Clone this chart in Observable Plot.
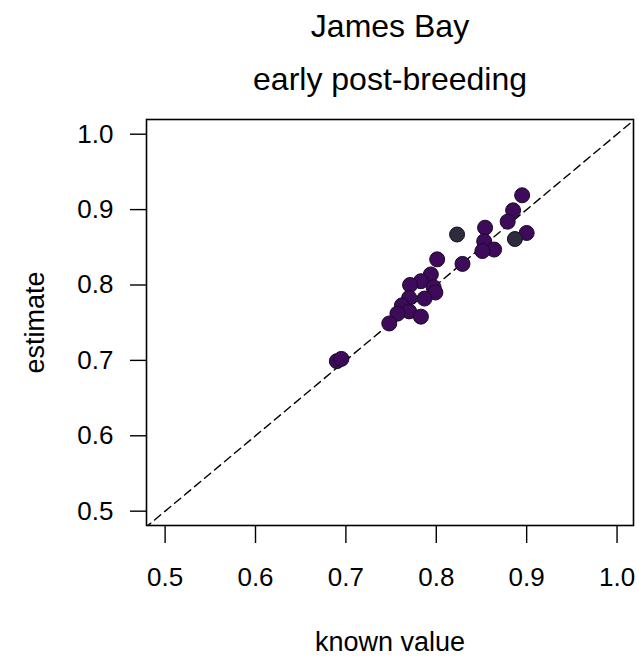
<!DOCTYPE html>
<html>
<head>
<meta charset="utf-8">
<script src="https://cdn.jsdelivr.net/npm/d3@7"></script>
<script src="https://cdn.jsdelivr.net/npm/@observablehq/plot@0.6"></script>
<style>
  html, body { margin: 0; padding: 0; background: #fff; }
  svg { display: block; }
</style>
</head>
<body>
<div id="chart"></div>
<script>
// Data
const knownValue = [0.895, 0.885, 0.879, 0.854, 0.823, 0.900, 0.887, 0.853, 0.864, 0.851,
                    0.829, 0.801, 0.794, 0.783, 0.797, 0.771, 0.799, 0.787, 0.770, 0.762,
                    0.770, 0.757, 0.783, 0.748, 0.690, 0.695];
const estimate   = [0.919, 0.899, 0.884, 0.876, 0.867, 0.869, 0.861, 0.858, 0.847, 0.845,
                    0.828, 0.834, 0.814, 0.805, 0.797, 0.800, 0.790, 0.782, 0.783, 0.773,
                    0.765, 0.762, 0.758, 0.749, 0.699, 0.702];
const group      = ["a","a","a","a","b","a","b","a","a","a",
                    "a","a","a","a","a","a","a","a","a","a",
                    "a","a","a","a","a","a"];
const ticks = [0.5, 0.6, 0.7, 0.8, 0.9, 1.0];
const identityLine = [0.4, 1.1];
const titleLines = ["James Bay", "early post-breeding"];

const points = knownValue.map((k, i) => ({known: k, est: estimate[i], group: group[i]}));

const font = "'Liberation Sans', Arial, Helvetica, sans-serif";

const chart = Plot.plot({
  width: 639,
  height: 657,
  marginLeft: 146,
  marginRight: 6,
  marginTop: 119,
  marginBottom: 132,
  style: {fontFamily: font, background: "#fff", color: "#000"},
  x: {domain: [0.4794, 1.0182]},
  y: {domain: [0.481, 1.0195]},
  color: {domain: ["a", "b"], range: ["#3e0b5c", "#2c2c3c"]},
  marks: [
    Plot.line(identityLine, {x: d => d, y: d => d, stroke: "#000", strokeWidth: 1.4,
      strokeDasharray: "8,5", clip: true}),
    Plot.dot(points, {x: "known", y: "est", r: 7.5, fill: "group", stroke: "#1a0a25",
      strokeWidth: 1, fillOpacity: 1}),
    Plot.frame({stroke: "#000", strokeWidth: 1.6}),
    Plot.axisX({ticks, tickSize: 18, tickPadding: 24, tickFormat: d3.format(".1f"),
      fontSize: 26, label: null, strokeWidth: 1.4}),
    Plot.axisY({ticks, tickSize: 16, tickPadding: 17, tickFormat: d3.format(".1f"),
      fontSize: 26, label: null, strokeWidth: 1.4}),
    Plot.text([titleLines[0]], {text: d => d, frameAnchor: "top", lineAnchor: "middle",
      dy: -93, fontSize: 32}),
    Plot.text([titleLines[1]], {text: d => d, frameAnchor: "top", lineAnchor: "middle",
      dy: -40, fontSize: 32}),
    Plot.text(["known value"], {text: d => d, frameAnchor: "bottom", lineAnchor: "middle",
      dy: 117, fontSize: 27}),
    Plot.text(["estimate"], {text: d => d, frameAnchor: "left", textAnchor: "middle",
      lineAnchor: "middle", dx: -111, rotate: -90, fontSize: 27})
  ]
});
document.getElementById("chart").appendChild(chart);
</script>
</body>
</html>
